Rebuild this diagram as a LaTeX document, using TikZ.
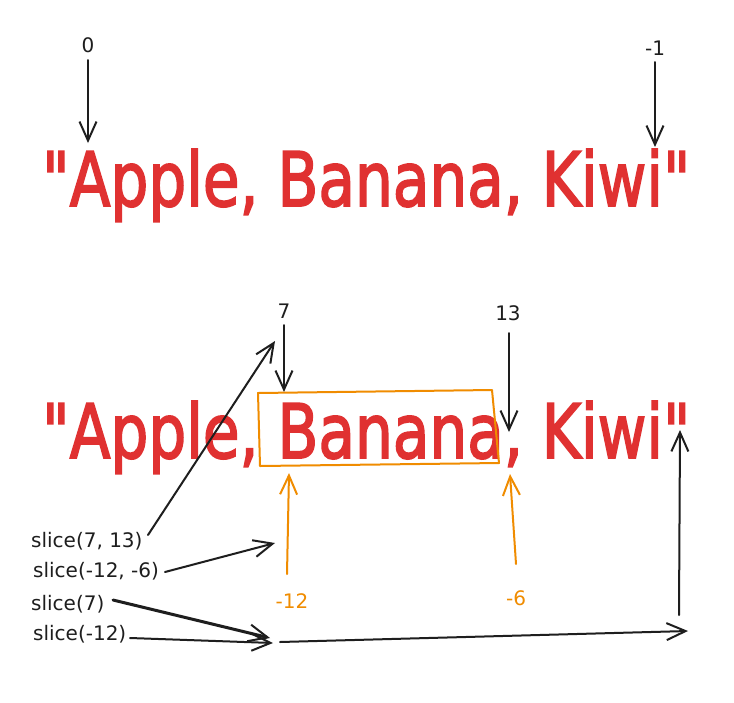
\documentclass[tikz,border=0pt]{standalone}
\usepackage{fontspec}
\usepackage{graphicx}
\newfontfamily\hand{DejaVu Sans}
\newfontfamily\strfont{DejaVu Sans}[FakeBold=2.5]
\usetikzlibrary{arrows.meta}
\definecolor{exred}{HTML}{E03131}
\definecolor{exorange}{HTML}{F08C00}
\definecolor{exblack}{HTML}{1E1E1E}
\begin{document}
\begin{tikzpicture}[x=1pt,y=-1pt,
  arr/.style={draw=exblack, line width=2pt, line cap=round,
    -{Straight Barb[length=19pt,width=17pt,line width=2pt]}},
  oarr/.style={arr, draw=exorange},
  lbl/.style={inner sep=0pt, text=exblack, font=\hand\fontsize{20}{24}\selectfont},
  olbl/.style={lbl, text=exorange},
  strnode/.style={inner sep=0pt, anchor=base west, text=exred}]
\useasboundingbox[fill=white] (0,0) rectangle (734,702);

% top string
\node[strnode] (s1) at (42,206) {\resizebox{648pt}{57pt}{\strfont"Apple, Banana, Kiwi"}};
\node[lbl] (l0) at (88,45) {0};
\node[lbl] (lm1) at (655,48) {-1};
\coordinate (t0) at (88,143);
\coordinate (tm1) at (655,147);
\draw[arr] (88,60) -- (t0);
\draw[arr] (655,62) -- (tm1);

% second string
\node[strnode] (s2) at (42,458) {\resizebox{648pt}{57pt}{\strfont"Apple, Banana, Kiwi"}};
\draw[exorange, line width=2pt, line join=round]
  (258,393) -- (492,390) -- (499,463) -- (260,466) -- cycle;

\node[lbl] (l7) at (284,311) {7};
\node[lbl] (l13) at (508,313) {13};
\coordinate (t7) at (284,392);
\coordinate (t13) at (509,432);
\draw[arr] (284,325) -- (t7);
\draw[arr] (509,333) -- (t13);

\node[olbl] (lm12) at (292,601) {-12};
\node[olbl] (lm6) at (516,598) {-6};
\coordinate (tm12) at (289,473);
\coordinate (tm6) at (510,474);
\draw[oarr] (287,574) -- (tm12);
\draw[oarr] (516,564) -- (tm6);

% slice labels
\node[lbl, anchor=west] (sa) at (31,541) {slice(7, 13)};
\node[lbl, anchor=west] (sb) at (33,571) {slice(-12, -6)};
\node[lbl, anchor=west] (sc) at (31,604) {slice(7)};
\node[lbl, anchor=west] (sd) at (33,634) {slice(-12)};

\coordinate (ha) at (275,341);
\coordinate (hb) at (275,543);
\coordinate (hc) at (270,638);
\coordinate (hd) at (273,643);
\coordinate (ls) at (280,642);
\coordinate (le) at (688,631);
\coordinate (vs) at (679,615);
\coordinate (ve) at (680,430);

\draw[arr] (148,535) -- (ha);
\draw[arr] (165,572) -- (hb);
\draw[arr, line width=3pt] (113,600) -- (hc);
\draw[arr] (130,638) -- (hd);
\draw[arr] (ls) -- (le);
\draw[arr] (vs) -- (ve);
\end{tikzpicture}
\end{document}
